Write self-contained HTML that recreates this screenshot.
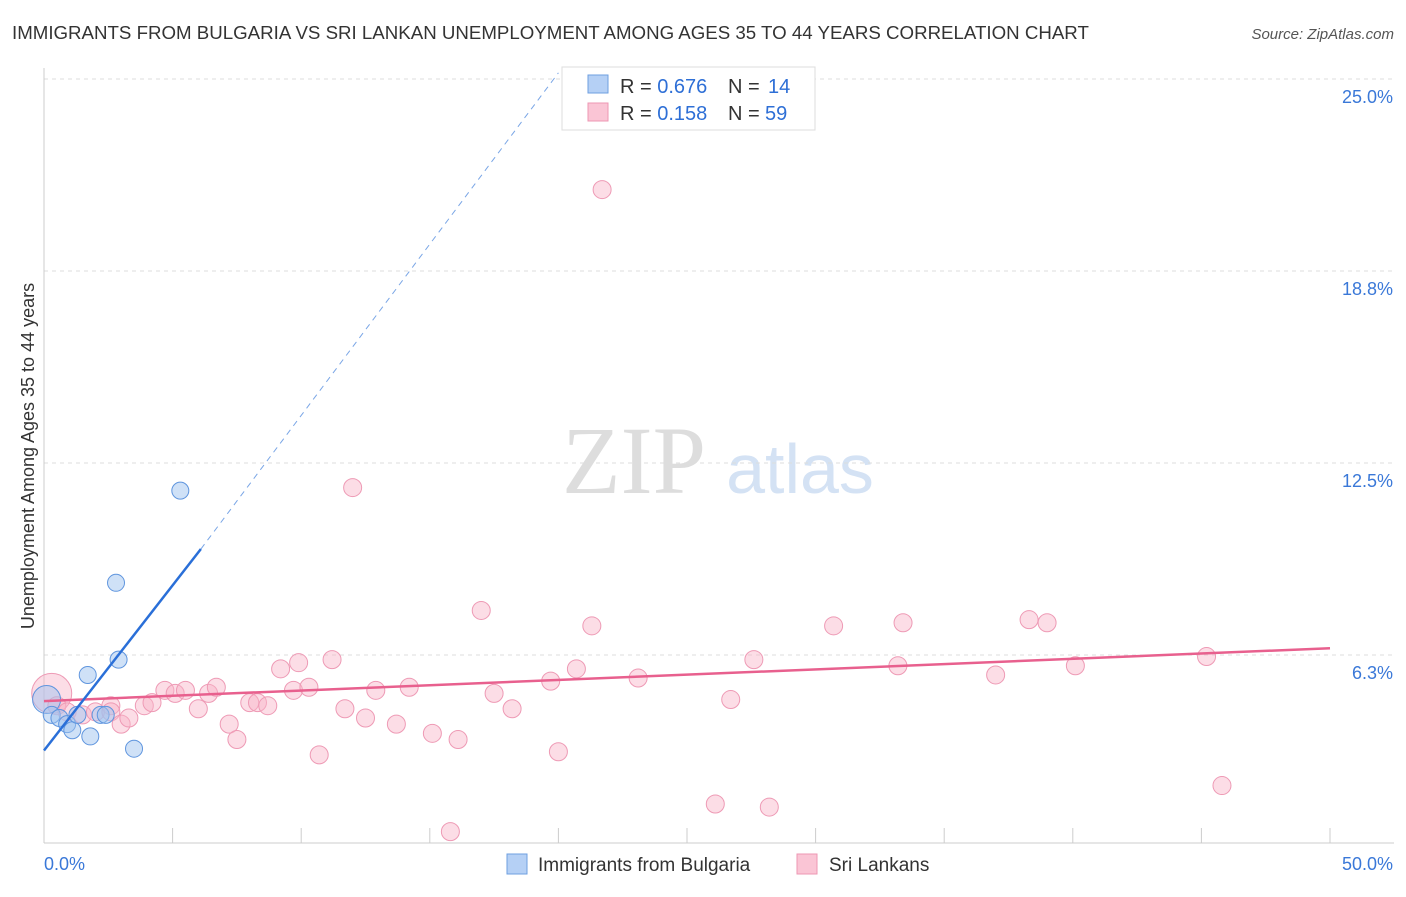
<!DOCTYPE html>
<html><head><meta charset="utf-8"><style>
body{margin:0;background:#fff;font-family:"Liberation Sans",sans-serif}
#c{position:relative;width:1406px;height:892px}
</style></head><body>
<div id="c">
<svg width="1406" height="892">
<text x="12" y="39" font-size="18.7" fill="#333">IMMIGRANTS FROM BULGARIA VS SRI LANKAN UNEMPLOYMENT AMONG AGES 35 TO 44 YEARS CORRELATION CHART</text>
<text x="1394" y="39" font-size="15" fill="#555" text-anchor="end" font-style="italic">Source: ZipAtlas.com</text>
<text x="634" y="493" font-size="96" fill="#ddd" font-family="Liberation Serif" text-anchor="middle">ZIP</text>
<text x="800" y="493" font-size="70" fill="#d4e2f4" text-anchor="middle">atlas</text>
<g id="grid"></g><g id="axes"></g><g id="marks"></g>
<text transform="translate(34,456) rotate(-90)" font-size="18" fill="#333" text-anchor="middle">Unemployment Among Ages 35 to 44 years</text>
<g>
<rect x="562" y="67" width="253" height="63" fill="#fff" stroke="#ddd"/>
<rect x="588" y="75" width="20" height="18" fill="#b5d0f5" stroke="#6e9fe0"/>
<rect x="588" y="103" width="20" height="18" fill="#fac5d5" stroke="#ee97b3"/>
<text x="620" y="93" font-size="20" fill="#333">R = <tspan fill="#2e6fd6">0.676</tspan></text>
<text x="728" y="93" font-size="20" fill="#333">N = <tspan x="768" fill="#2e6fd6">14</tspan></text>
<text x="620" y="120" font-size="20" fill="#333">R = <tspan fill="#2e6fd6">0.158</tspan></text>
<text x="728" y="120" font-size="20" fill="#333">N = <tspan x="765" fill="#2e6fd6">59</tspan></text>
</g>
<g>
<rect x="507" y="854" width="20" height="20" fill="#b5d0f5" stroke="#6e9fe0"/>
<text x="538" y="871" font-size="19" fill="#333">Immigrants from Bulgaria</text>
<rect x="797" y="854" width="20" height="20" fill="#fac5d5" stroke="#ee97b3"/>
<text x="829" y="871" font-size="19" fill="#333">Sri Lankans</text>
</g>
</svg></div>
<script>
const yTicks=[6.25,12.5,18.75,25];
const yTickLabels=["6.3%","12.5%","18.8%","25.0%"];
const xTicks=[0,5,10,15,20,25,30,35,40,45,50];
const bulgariaX=[0.1,0.3,0.6,0.9,1.1,1.3,1.7,1.8,2.2,2.4,2.8,2.9,3.5,5.3];
const bulgariaY=[4.8,4.3,4.2,4.0,3.8,4.3,5.6,3.6,4.3,4.3,8.6,6.1,3.2,11.6];
const lankaX=[0.3,0.5,0.9,1.5,2.0,2.6,2.6,3.0,3.3,3.9,4.2,4.7,5.1,5.5,6.0,6.4,6.7,7.2,7.5,8.0,8.3,8.7,9.2,9.7,9.9,10.3,10.7,11.2,11.7,12.0,12.5,12.9,13.7,14.2,15.1,15.8,16.1,17.0,17.5,18.2,19.7,20.0,20.7,21.3,21.7,23.1,26.1,26.7,27.6,28.2,30.7,33.2,33.4,37.0,38.3,39.0,40.1,45.2,45.8];
const lankaY=[5.0,4.6,4.4,4.3,4.4,4.6,4.4,4.0,4.2,4.6,4.7,5.1,5.0,5.1,4.5,5.0,5.2,4.0,3.5,4.7,4.7,4.6,5.8,5.1,6.0,5.2,3.0,6.1,4.5,11.7,4.2,5.1,4.0,5.2,3.7,0.5,3.5,7.7,5.0,4.5,5.4,3.1,5.8,7.2,21.4,5.5,1.4,4.8,6.1,1.3,7.2,5.9,7.3,5.6,7.4,7.3,5.9,6.2,2.0];
const lankaTrend=[0,4.75,50,6.47];
const bulgTrend=[0,3.14,6.1,9.7,20,25.2];
const X=v=>44+v*25.72, Y=v=>847-v*30.72;
const NS="http://www.w3.org/2000/svg";
function mk(t,a,p){const e=document.createElementNS(NS,t);for(const k in a)e.setAttribute(k,a[k]);p.appendChild(e);return e;}
const grid=document.getElementById('grid'),axes=document.getElementById('axes'),marks=document.getElementById('marks');
yTicks.forEach((t,i)=>{
 const l=mk('line',{x1:44,x2:1394,y1:Y(t),y2:Y(t),stroke:'#ddd','stroke-dasharray':'4,4'},grid);
 
 
 const tx=mk('text',{x:1393,y:Y(t)+24,'font-size':18,fill:'#3a78d8','text-anchor':'end'},axes);
 tx.textContent=yTickLabels[i];
 
 
});
const ax=mk('line',{x1:44,x2:1394,y1:843,y2:843,stroke:'#ccc'},axes);


const ay=mk('line',{x1:44,x2:44,y1:68,y2:843,stroke:'#ccc'},axes);


xTicks.forEach(t=>{
 const l=mk('line',{x1:X(t),x2:X(t),y1:828,y2:843,stroke:'#ccc'},axes);
 
 
});
[["0.0%",44,'start'],["50.0%",1393,'end']].forEach(d=>{
 const tx=mk('text',{x:d[1],y:870,'font-size':18,fill:'#3a78d8','text-anchor':d[2]},axes);
 tx.textContent=d[0];
 
 
});
lankaX.forEach((x,i)=>{
 const c=mk('circle',{cx:X(x),cy:Y(lankaY[i]),r:i==0?20:9,fill:'rgba(248,180,200,0.45)',stroke:'#ee9ab5','stroke-width':1},marks);
 
 
});
bulgariaX.forEach((x,i)=>{
 const c=mk('circle',{cx:X(x),cy:Y(bulgariaY[i]),r:i==0?14:8.5,fill:'rgba(160,195,240,0.5)',stroke:'#5f95de','stroke-width':1},marks);
 
 
});
const pl=mk('line',{x1:X(lankaTrend[0]),y1:Y(lankaTrend[1]),x2:X(lankaTrend[2]),y2:Y(lankaTrend[3]),stroke:'#e8608e','stroke-width':2.5},marks);


const bl=mk('line',{x1:X(bulgTrend[0]),y1:Y(bulgTrend[1]),x2:X(bulgTrend[2]),y2:Y(bulgTrend[3]),stroke:'#2a6fd8','stroke-width':2.5},marks);


const bd=mk('line',{x1:X(bulgTrend[2]),y1:Y(bulgTrend[3]),x2:X(bulgTrend[4]),y2:Y(bulgTrend[5]),stroke:'#7aa6e6','stroke-width':1,'stroke-dasharray':'6,5'},marks);


</script>
</body></html>
